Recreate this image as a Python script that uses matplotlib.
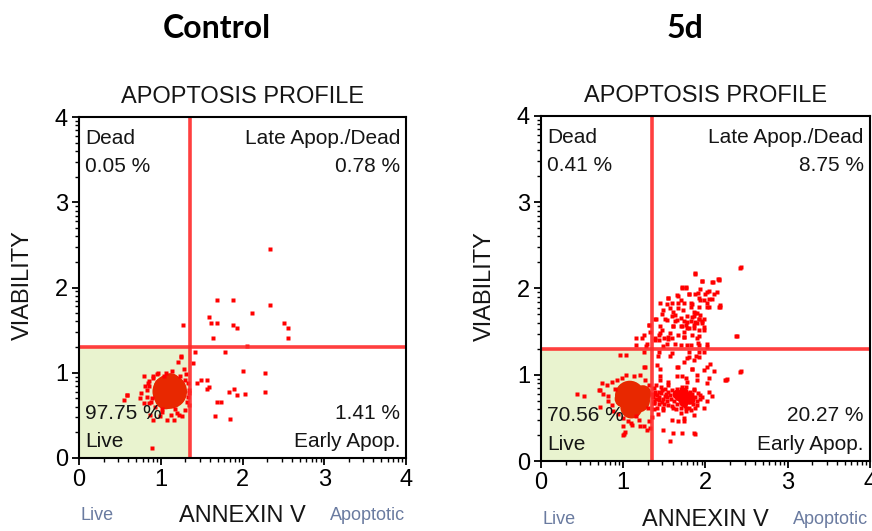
import numpy as np
import matplotlib
matplotlib.use('Agg')
import matplotlib.pyplot as plt
from matplotlib.patches import Rectangle

plt.rcParams['font.family'] = ['Liberation Sans', 'DejaVu Sans']

# 分组标题
panel_titles = ['Control', '5d']

# 象限门限 (annexin, viability)
ctrl_gate = (1.36, 1.30)
d5_gate = (1.35, 1.30)

# 象限百分比: Dead, Late, Live, Early
ctrl_pct = ['0.05 %', '0.78 %', '97.75 %', '1.41 %']
d5_pct = ['0.41 %', '8.75 %', '70.56 %', '20.27 %']

# Control: 主细胞团 (实心部分), 中心 + 大小
ctrl_core_x = [1.11, 1.06, 1.17, 1.12, 1.02]
ctrl_core_y = [0.78, 0.70, 0.74, 0.88, 0.84]
ctrl_core_s = [620, 250, 250, 200, 150]

# Control: 散点
ctrl_x = [2.34, 1.69, 1.88, 2.34, 2.12, 1.59, 1.61, 1.69, 1.88, 1.93, 2.51, 2.56,
          1.64, 2.56, 1.27, 2.05, 1.42, 1.79, 1.25, 1.39, 2.00, 2.27, 1.49, 1.44,
          1.56, 1.56, 1.59, 1.90, 1.83, 1.93, 2.03, 2.27, 1.69, 1.74, 1.66, 1.85,
          0.89, 0.59, 0.55,
          0.79, 0.76, 0.81, 0.86, 0.91, 0.97, 1.06, 1.14, 1.21, 1.25, 1.28, 1.33,
          1.33, 1.35, 1.30, 1.26, 1.16, 1.08, 0.91, 0.87, 0.79, 0.75, 0.83, 0.59,
          0.86, 1.20, 1.12, 0.99, 1.35, 0.86, 0.83, 1.01, 1.24, 0.89, 0.93, 1.30,
          1.32, 1.02, 1.18, 0.90, 0.95, 0.84, 0.88, 1.34, 1.31, 1.04, 1.22]
ctrl_y = [2.45, 1.85, 1.85, 1.80, 1.70, 1.65, 1.58, 1.58, 1.56, 1.53, 1.58, 1.53,
          1.41, 1.41, 1.56, 1.31, 1.24, 1.24, 1.19, 1.12, 1.02, 1.00, 0.92, 0.88,
          0.92, 0.81, 0.83, 0.81, 0.77, 0.74, 0.75, 0.77, 0.66, 0.66, 0.49, 0.46,
          0.12, 0.74, 0.68,
          0.96, 0.76, 0.84, 0.90, 0.96, 1.00, 1.00, 1.02, 1.13, 1.20, 1.04, 0.88,
          0.72, 0.62, 0.56, 0.49, 0.45, 0.44, 0.44, 0.51, 0.64, 0.70, 0.72, 0.74,
          0.64, 0.53, 0.51, 0.49, 0.80, 0.84, 0.80, 0.54, 0.96, 0.70, 0.60, 0.92,
          0.66, 0.58, 0.58, 0.94, 0.98, 0.88, 0.66, 0.76, 0.98, 0.96, 0.50]

# 5d: 主细胞团 (实心部分), 中心 + 大小
d5_core_x = [1.08, 1.18, 1.10, 1.24, 1.00]
d5_core_y = [0.76, 0.70, 0.62, 0.78, 0.72]
d5_core_s = [450, 300, 250, 150, 150]

# 5d: 早期凋亡密集团中心
d5_clump_x = [1.70, 1.78, 1.74, 1.74, 1.82, 1.66]
d5_clump_y = [0.74, 0.74, 0.79, 0.68, 0.71, 0.77]

# 5d: 晚期凋亡区散点
d5_late_x = [2.43, 1.87, 1.96, 2.09, 2.15, 1.72, 1.76, 1.65, 1.80, 1.91, 2.02, 2.11,
             1.55, 1.67, 1.82, 1.94, 2.05, 2.18, 1.49, 1.61, 1.73, 1.86, 1.90, 1.94,
             1.98, 1.40, 1.53, 1.65, 1.78, 1.88, 1.96, 1.31, 1.61, 1.70, 1.80, 1.92,
             1.33, 1.45, 1.57, 1.67, 1.90, 2.38, 1.16, 1.43, 1.55, 1.63, 1.78, 1.91,
             1.16, 1.28, 1.49, 2.02, 1.84, 1.92, 1.86, 1.76, 1.63, 1.57, 1.70, 1.45,
             1.50, 1.39, 1.23, 1.98, 1.84, 1.74, 2.02, 1.45, 2.37, 2.17, 2.16, 2.42,
             1.87,
             1.96, 2.08, 2.16, 1.72, 1.76, 1.94, 2.04, 1.80, 1.88, 2.00, 2.14, 1.55,
             1.67, 1.92, 1.98, 2.08, 1.53, 1.59, 1.74, 1.84, 2.02, 2.18, 1.67, 1.82,
             1.92, 1.88, 2.04, 1.47, 1.59, 1.70, 1.78, 1.86, 1.92, 1.39, 1.51, 1.63,
             1.74, 1.82, 1.90, 1.96, 1.61, 1.72, 1.78, 1.86, 1.98, 1.31, 1.47, 1.74,
             1.43, 1.55, 1.59, 1.74, 1.92, 1.25, 1.39, 1.53, 1.70, 1.82, 1.92, 2.02,
             1.29]
d5_late_y = [2.25, 2.18, 2.09, 2.07, 2.11, 2.02, 2.02, 1.92, 1.94, 1.95, 1.96, 1.94,
             1.89, 1.83, 1.83, 1.87, 1.88, 1.81, 1.75, 1.73, 1.75, 1.73, 1.71, 1.69,
             1.65, 1.65, 1.63, 1.63, 1.61, 1.61, 1.60, 1.58, 1.56, 1.56, 1.54, 1.52,
             1.50, 1.48, 1.48, 1.46, 1.43, 1.45, 1.43, 1.40, 1.41, 1.36, 1.35, 1.37,
             1.35, 1.33, 1.33, 1.32, 1.67, 1.65, 1.58, 1.58, 1.69, 1.77, 1.87, 1.56,
             1.42, 1.42, 1.42, 1.52, 1.46, 1.44, 1.79, 1.83, 1.45, 1.79, 2.10, 2.24,
             2.17,
             2.09, 2.07, 2.11, 2.01, 2.01, 1.99, 1.97, 1.94, 1.94, 1.94, 1.96, 1.89,
             1.91, 1.89, 1.87, 1.88, 1.82, 1.83, 1.83, 1.82, 1.83, 1.79, 1.77, 1.78,
             1.78, 1.72, 1.78, 1.70, 1.68, 1.66, 1.68, 1.68, 1.65, 1.65, 1.65, 1.62,
             1.62, 1.62, 1.60, 1.62, 1.56, 1.56, 1.54, 1.54, 1.55, 1.58, 1.52, 1.49,
             1.46, 1.44, 1.43, 1.44, 1.45, 1.46, 1.40, 1.36, 1.34, 1.34, 1.34, 1.36,
             1.36]

# 5d: 早期凋亡区散点
d5_early_x = [0.96, 1.04, 1.27, 1.42, 1.41, 1.57, 1.78, 1.89, 1.67, 1.84, 2.02, 1.90,
              1.77, 1.65, 1.45, 1.55, 2.04, 2.26, 2.43, 2.42, 2.25,
              1.74, 1.80, 1.86, 1.92, 1.84, 1.98, 2.06, 2.10, 1.65, 1.45, 1.72, 1.78,
              1.90, 2.02, 2.24, 1.45, 1.55, 1.59, 1.47, 1.39, 1.51, 1.43, 1.37, 1.55,
              1.49, 1.61, 2.04, 2.08, 2.02, 1.98, 1.86, 1.74, 1.59, 1.67, 1.74, 1.49,
              1.61, 1.72, 1.86, 1.82, 1.90, 1.94, 1.65, 1.70, 1.86, 1.84, 1.76,
              1.40, 1.44, 1.47, 1.52, 1.41, 1.46, 1.53, 1.57, 1.38, 1.42, 1.57, 1.88,
              1.25, 1.43, 1.59, 1.80, 1.92, 1.98,
              1.62, 1.64, 1.66, 1.66, 1.69, 1.70, 1.71, 1.73, 1.75, 1.76, 1.77, 1.79,
              1.80, 1.81, 1.83, 1.85, 1.86, 1.88, 1.90, 1.91, 1.93, 1.96, 1.60, 1.58,
              1.68, 1.72, 1.78, 1.84, 1.87, 1.64, 1.70, 1.76,
              1.36, 1.38, 1.39, 1.41, 1.43, 1.44, 1.46, 1.48, 1.50, 1.51, 1.53, 1.55,
              1.37, 1.40, 1.49]
d5_early_y = [1.23, 1.23, 1.09, 1.22, 1.11, 1.22, 1.19, 1.22, 1.09, 1.07, 1.09, 1.00,
              0.96, 0.98, 0.98, 0.92, 0.96, 0.95, 1.04, 1.03, 0.94,
              1.15, 1.21, 1.17, 1.21, 1.07, 1.06, 1.13, 1.04, 1.09, 1.07, 0.98, 0.92,
              0.94, 0.90, 0.94, 0.94, 0.88, 0.82, 0.82, 0.78, 0.75, 0.71, 0.67, 0.65,
              0.59, 0.61, 0.80, 0.75, 0.69, 0.61, 0.53, 0.50, 0.48, 0.46, 0.46, 0.36,
              0.32, 0.33, 0.32, 0.59, 0.65, 0.77, 0.73, 0.84, 0.84, 0.71, 0.61,
              0.72, 0.80, 0.68, 0.78, 0.62, 0.86, 0.70, 0.76, 0.85, 0.55, 0.23, 0.31,
              1.26, 1.26, 1.25, 1.26, 1.26, 1.26,
              0.70, 0.78, 0.84, 0.66, 0.72, 0.62, 0.86, 0.70, 0.64, 0.78, 0.86, 0.68,
              0.62, 0.80, 0.72, 0.66, 0.82, 0.74, 0.70, 0.79, 0.72, 0.74, 0.64, 0.72,
              0.80, 0.76, 0.71, 0.78, 0.62, 0.60, 0.56, 0.58,
              0.74, 0.70, 0.80, 0.76, 0.66, 0.74, 0.79, 0.72, 0.66, 0.84, 0.74, 0.80,
              0.60, 0.88, 0.62]

# 5d: 活细胞区散点 (主细胞团周围)
d5_live_x = [0.74, 0.80, 0.86, 0.92, 0.98, 1.04, 1.13, 1.21, 1.27, 1.25, 0.70, 0.76,
             0.82, 0.82, 0.86, 1.00, 1.06, 1.00, 1.11, 1.19, 1.25, 1.31, 1.35, 1.02,
             1.33, 0.72, 1.35, 1.37, 0.44, 0.52, 0.72, 1.00, 1.09, 1.21, 1.29, 1.01,
             0.88, 0.94, 1.30, 1.32, 0.90, 1.16]
d5_live_y = [0.90, 0.88, 0.92, 0.94, 0.96, 1.00, 0.98, 1.00, 0.94, 1.09, 0.82, 0.78,
             0.75, 0.69, 0.65, 0.50, 0.46, 0.40, 0.42, 0.48, 0.40, 0.46, 0.51, 0.34,
             0.38, 0.63, 0.78, 0.67, 0.78, 0.75, 0.82, 0.30, 0.44, 0.40, 0.36, 0.31,
             0.58, 0.54, 0.62, 0.88, 0.84, 0.52]

quad_names = ['Dead', 'Late Apop./Dead', 'Live', 'Early Apop.']

fig = plt.figure(figsize=(8.72, 5.31), dpi=100)
ax1 = fig.add_axes([0.0906, 0.1375, 0.375, 0.642])
ax2 = fig.add_axes([0.6204, 0.1318, 0.377, 0.650])

minor = [d + np.log10(k) for d in range(4) for k in range(2, 10)]
core_col = '#e82800'
dot_col = '#ff0000'


def draw_panel(ax, gate, pct):
    gx, gy = gate
    ax.set_xlim(0, 4)
    ax.set_ylim(0, 4)
    # 活细胞象限底色
    ax.add_patch(Rectangle((0, 0), gx, gy, facecolor='#e9f3cf', edgecolor='none', zorder=0))
    ax.axvline(gx, color='#ff2a2a', lw=2.6, alpha=0.9, zorder=4)
    ax.axhline(gy, color='#ff2a2a', lw=2.6, alpha=0.9, zorder=4)

    ax.set_xticks(range(5))
    ax.set_yticks(range(5))
    ax.set_xticks(minor, minor=True)
    ax.set_yticks(minor, minor=True)
    ax.tick_params(which='major', direction='out', length=5, width=1.3, labelsize=17, pad=3)
    ax.tick_params(which='minor', direction='out', length=3, width=1.0)
    for sp in ax.spines.values():
        sp.set_linewidth(1.5)
        sp.set_zorder(5)

    tc = '#151515'
    kw = dict(transform=ax.transAxes, fontsize=15, color=tc, zorder=6)
    ax.text(0.018, 0.922, quad_names[0], ha='left', va='baseline', **kw)
    ax.text(0.018, 0.839, pct[0], ha='left', va='baseline', **kw)
    ax.text(0.982, 0.922, quad_names[1], ha='right', va='baseline', **kw)
    ax.text(0.982, 0.839, pct[1], ha='right', va='baseline', **kw)
    ax.text(0.018, 0.115, pct[2], ha='left', va='baseline', **kw)
    ax.text(0.018, 0.032, quad_names[2], ha='left', va='baseline', **kw)
    ax.text(0.982, 0.115, pct[3], ha='right', va='baseline', **kw)
    ax.text(0.982, 0.032, quad_names[3], ha='right', va='baseline', **kw)

    ax.text(0.5, 1.058, 'APOPTOSIS PROFILE', transform=ax.transAxes, ha='center',
            va='center', fontsize=17, color=tc)
    ax.text(-0.172, 0.508, 'VIABILITY', transform=ax.transAxes, ha='center',
            va='center', rotation=90, fontsize=17, color=tc)
    ax.text(0.5, -0.17, 'ANNEXIN V', transform=ax.transAxes, ha='center',
            va='center', fontsize=17, color=tc)
    ax.text(0.054, -0.17, 'Live', transform=ax.transAxes, ha='center',
            va='center', fontsize=13, color='#6a7ba0')
    ax.text(0.882, -0.17, 'Apoptotic', transform=ax.transAxes, ha='center',
            va='center', fontsize=13, color='#6a7ba0')


draw_panel(ax1, ctrl_gate, ctrl_pct)
ax1.scatter(ctrl_core_x, ctrl_core_y, s=ctrl_core_s, color=core_col, edgecolors='none', zorder=2)
ax1.plot(ctrl_x, ctrl_y, 's', ms=2.2, mec='none', color=dot_col, zorder=3)

draw_panel(ax2, d5_gate, d5_pct)
ax2.scatter(d5_core_x, d5_core_y, s=d5_core_s, color=core_col, edgecolors='none', zorder=2)
ax2.scatter(d5_clump_x, d5_clump_y, s=50, color=dot_col, edgecolors='none', zorder=2)
for xs, ys in [(d5_late_x, d5_late_y), (d5_early_x, d5_early_y), (d5_live_x, d5_live_y)]:
    ax2.plot(xs, ys, 's', ms=2.2, mec='none', color=dot_col, zorder=3)

fig.text(217 / 872, 1 - 38 / 531, panel_titles[0], ha='center', va='baseline',
         fontsize=23, fontweight='bold', family='Lato')
fig.text(685 / 872, 1 - 38 / 531, panel_titles[1], ha='center', va='baseline',
         fontsize=23, fontweight='bold', family='Lato')

fig.savefig('out.png', dpi=100)
